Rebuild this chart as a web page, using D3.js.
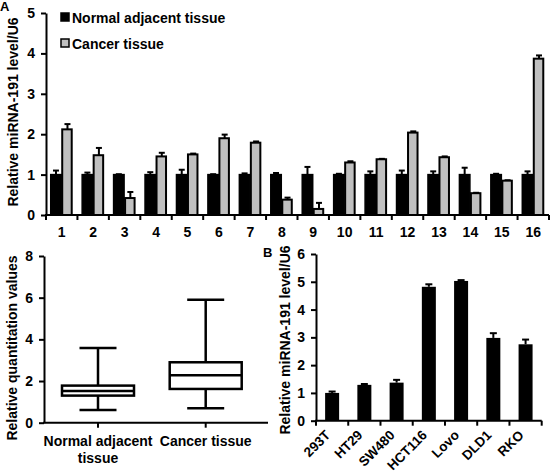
<!DOCTYPE html>
<html><head><meta charset="utf-8">
<script src="https://cdn.jsdelivr.net/npm/d3@7"></script>
<style>body{margin:0;background:#fff}svg{display:block}text{font-family:"Liberation Sans",Arial,sans-serif;font-weight:bold;fill:#000}</style>
</head><body>
<svg id="c" width="550" height="475"></svg>
<script>
// Panel A data
const samples = ["1","2","3","4","5","6","7","8","9","10","11","12","13","14","15","16"];
const normalVals = [1,1,1,1,1,1,1,1,1,1,1,1,1,1,1,1];
const normalErr = [0.10,0.05,0.01,0.06,0.12,0.01,0.03,0.04,0.19,0.02,0.08,0.10,0.08,0.17,0.02,0.08];
const cancerVals = [2.12,1.48,0.42,1.45,1.50,1.90,1.79,0.38,0.15,1.30,1.38,2.04,1.43,0.54,0.85,3.87];
const cancerErr = [0.13,0.18,0.15,0.09,0.02,0.09,0.03,0.05,0.15,0.03,0.01,0.03,0.02,0.01,0.01,0.08];
const topTicks = [0,1,2,3,4,5];
// Box plot data
const boxGroups = ["Normal adjacent tissue","Cancer tissue"];
const boxMin = [0.61,0.69];
const boxQ1 = [1.30,1.62];
const boxMed = [1.52,2.28];
const boxQ3 = [1.78,2.90];
const boxMax = [3.58,5.90];
const boxTicks = [0,2,4,6,8];
// Panel B data
const cellLines = ["293T","HT29","SW480","HCT116","Lovo","DLD1","RKO"];
const cellVals = [1.00,1.29,1.37,4.82,5.03,2.98,2.75];
const cellErr = [0.05,0.03,0.10,0.09,0.03,0.17,0.17];
const bTicks = [0,1,2,3,4,5,6];

const svg = d3.select("#c");
const fmt = d3.format("d");

function styleAxis(ax){
  ax.select(".domain").attr("stroke-width",2);
  ax.selectAll(".tick line").attr("stroke-width",2);
  ax.selectAll("text").attr("font-size",14).attr("dx",-3).style("font-family","Liberation Sans").style("font-weight","bold");
}

// ---------- Panel A ----------
{
  const x0 = d3.scaleBand().domain(samples).range([46,549]).padding(0);
  const y = d3.scaleLinear().domain([0,5]).range([215,13]);
  const bw = 10.5;
  const g = svg.append("g");
  const ya = g.append("g").attr("transform","translate(46,0)").call(d3.axisLeft(y).tickValues(topTicks).tickFormat(fmt).tickSize(5).tickSizeOuter(0));
  styleAxis(ya);
  samples.forEach((s,i)=>{
    const cx = x0(s) + x0.bandwidth()/2;
    const nx = cx - bw - 0.5, cxx = cx + 0.5;
    [[nx,normalVals[i],normalErr[i]],[cxx,cancerVals[i],cancerErr[i]]].forEach(([bx,v,e])=>{
      g.append("line").attr("x1",bx+bw/2).attr("x2",bx+bw/2).attr("y1",y(v)).attr("y2",y(v+e)).attr("stroke","#000").attr("stroke-width",2);
      g.append("line").attr("x1",bx+bw/2-3).attr("x2",bx+bw/2+3).attr("y1",y(v+e)).attr("y2",y(v+e)).attr("stroke","#000").attr("stroke-width",2);
    });
    g.append("rect").attr("x",nx).attr("y",y(normalVals[i])).attr("width",bw).attr("height",y(0)-y(normalVals[i])).attr("fill","#000").attr("stroke","#000").attr("stroke-width",1.5);
    g.append("rect").attr("x",cxx).attr("y",y(cancerVals[i])).attr("width",bw-1).attr("height",y(0)-y(cancerVals[i])).attr("fill","#c0c0c0").attr("stroke","#000").attr("stroke-width",2);
  });
  const xa = g.append("g").attr("transform","translate(0,215)");
  xa.append("line").attr("x1",45).attr("x2",549).attr("stroke","#000").attr("stroke-width",2);
  for (let i=0;i<=samples.length;i++){
    const px = 46 + i*x0.bandwidth();
    xa.append("line").attr("x1",px).attr("x2",px).attr("y1",0).attr("y2",5).attr("stroke","#000").attr("stroke-width",2);
  }
  samples.forEach(s=>{
    xa.append("text").attr("x",x0(s)+x0.bandwidth()/2).attr("y",22).attr("text-anchor","middle").attr("font-size",14).text(s);
  });
  g.append("text").attr("transform","translate(18,112) rotate(-90)").attr("text-anchor","middle").attr("font-size",14).text("Relative miRNA-191 level/U6");
  g.append("text").attr("x",0).attr("y",11).attr("font-size",13).text("A");
  g.append("rect").attr("x",61).attr("y",13).attr("width",8).attr("height",8).attr("fill","#000").attr("stroke","#000").attr("stroke-width",1.5);
  g.append("text").attr("x",72).attr("y",22.5).attr("font-size",14).text("Normal adjacent tissue");
  g.append("rect").attr("x",61).attr("y",39).attr("width",8).attr("height",8).attr("fill","#c0c0c0").attr("stroke","#000").attr("stroke-width",1.5);
  g.append("text").attr("x",72).attr("y",48.5).attr("font-size",14).text("Cancer tissue");
}

// ---------- Box plot ----------
{
  const x = d3.scalePoint().domain(boxGroups).range([98,205.7]);
  const y = d3.scaleLinear().domain([0,8]).range([422.7,256]);
  const g = svg.append("g");
  const ya = g.append("g").attr("transform","translate(44,0)").call(d3.axisLeft(y).tickValues(boxTicks).tickFormat(fmt).tickSize(5).tickSizeOuter(0));
  styleAxis(ya);
  g.append("line").attr("x1",43).attr("x2",268).attr("y1",y(0)).attr("y2",y(0)).attr("stroke","#000").attr("stroke-width",2);
  const bwid = 72, cap = 37;
  boxGroups.forEach((b,i)=>{
    const cx = x(b);
    g.append("line").attr("x1",cx).attr("x2",cx).attr("y1",y(0)).attr("y2",y(0)+5).attr("stroke","#000").attr("stroke-width",2);
    g.append("line").attr("x1",cx).attr("x2",cx).attr("y1",y(boxMin[i])).attr("y2",y(boxMax[i])).attr("stroke","#000").attr("stroke-width",2.5);
    g.append("line").attr("x1",cx-cap/2).attr("x2",cx+cap/2).attr("y1",y(boxMin[i])).attr("y2",y(boxMin[i])).attr("stroke","#000").attr("stroke-width",2.5);
    g.append("line").attr("x1",cx-cap/2).attr("x2",cx+cap/2).attr("y1",y(boxMax[i])).attr("y2",y(boxMax[i])).attr("stroke","#000").attr("stroke-width",2.5);
    g.append("rect").attr("x",cx-bwid/2).attr("y",y(boxQ3[i])).attr("width",bwid).attr("height",y(boxQ1[i])-y(boxQ3[i])).attr("fill","#fff").attr("stroke","#000").attr("stroke-width",2.5);
    g.append("line").attr("x1",cx-bwid/2).attr("x2",cx+bwid/2).attr("y1",y(boxMed[i])).attr("y2",y(boxMed[i])).attr("stroke","#000").attr("stroke-width",2.5);
  });
  g.append("text").attr("x",x(boxGroups[0])).attr("y",446).attr("text-anchor","middle").attr("font-size",14).text("Normal adjacent");
  g.append("text").attr("x",x(boxGroups[0])).attr("y",463).attr("text-anchor","middle").attr("font-size",14).text("tissue");
  g.append("text").attr("x",x(boxGroups[1])).attr("y",446).attr("text-anchor","middle").attr("font-size",14).text("Cancer tissue");
  g.append("text").attr("transform","translate(17,348) rotate(-90)").attr("text-anchor","middle").attr("font-size",14).text("Relative quantitation values");
}

// ---------- Panel B ----------
{
  const x = d3.scaleBand().domain(cellLines).range([316,541.7]).padding(0);
  const y = d3.scaleLinear().domain([0,6]).range([420.7,254]);
  const g = svg.append("g");
  const ya = g.append("g").attr("transform","translate(316,0)").call(d3.axisLeft(y).tickValues(bTicks).tickFormat(fmt).tickSize(5).tickSizeOuter(0));
  styleAxis(ya);
  g.append("line").attr("x1",315).attr("x2",541.7).attr("y1",y(0)).attr("y2",y(0)).attr("stroke","#000").attr("stroke-width",2);
  const bw = 14;
  cellLines.forEach((c,i)=>{
    const cx = x(c)+x.bandwidth()/2;
    g.append("line").attr("x1",cx).attr("x2",cx).attr("y1",y(cellVals[i])).attr("y2",y(cellVals[i]+cellErr[i])).attr("stroke","#000").attr("stroke-width",2);
    g.append("line").attr("x1",cx-3.5).attr("x2",cx+3.5).attr("y1",y(cellVals[i]+cellErr[i])).attr("y2",y(cellVals[i]+cellErr[i])).attr("stroke","#000").attr("stroke-width",2);
    g.append("rect").attr("x",cx-bw/2).attr("y",y(cellVals[i])).attr("width",bw).attr("height",y(0)-y(cellVals[i])).attr("fill","#000");
    g.append("text").attr("transform",`translate(${cx-1},${436}) rotate(-45)`).attr("text-anchor","end").attr("font-size",13.5).text(c);
  });
  for (let i=0;i<=cellLines.length;i++){
    const px = 316 + i*x.bandwidth();
    g.append("line").attr("x1",px).attr("x2",px).attr("y1",y(0)).attr("y2",y(0)+5).attr("stroke","#000").attr("stroke-width",2);
  }
  g.append("text").attr("transform","translate(290,340) rotate(-90)").attr("text-anchor","middle").attr("font-size",14).text("Relative miRNA-191 level/U6");
  g.append("text").attr("x",263).attr("y",257).attr("font-size",13).text("B");
}
</script>
</body></html>
